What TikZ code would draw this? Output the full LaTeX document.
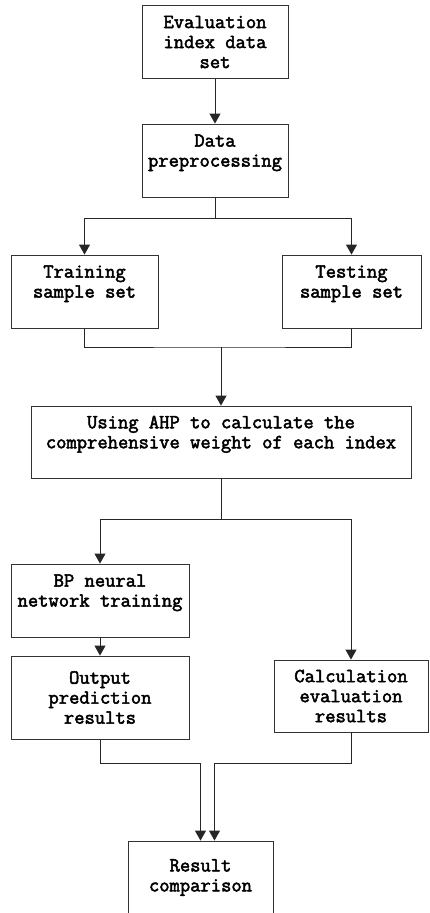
\documentclass[tikz,border=0pt]{standalone}
\usepackage{fontspec}
\newfontfamily\boxfont{Latin Modern Mono}[FakeBold=2.5]
\usepackage{tikz}
\usetikzlibrary{positioning,arrows.meta}

\tikzset{
  box/.style={draw=black!80, line width=0.9pt, rectangle, inner sep=0pt,
    minimum width=146pt, minimum height=73pt, align=center,
    font=\boxfont\fontsize{20}{20}\selectfont},
  arr/.style={draw=black!85, line width=1pt, -{Triangle[length=10pt,width=11pt]}},
  ln/.style={draw=black!85, line width=1pt}
}

\begin{document}
\begin{tikzpicture}[x=1pt,y=-1pt,on grid]
			\clip (0,0) rectangle (429,913);
			\fill[white] (0,0) rectangle (429,913);
			\node[box] (eval) at (215,42) {Evaluation\\index data\\set};
			\node[box] (prep) [below=118.5pt of eval] {Data\\preprocessing\\~};
			\node[box, minimum width=147pt] (train) [below left=131pt and 130.5pt of prep] {Training\\sample set\\~};
			\node[box, minimum width=139pt] (test) [below right=131pt and 136.5pt of prep] {Testing\\sample set\\~};
			\node[box, minimum width=380pt, minimum height=72pt] (ahp) [below right=281.5pt and 6pt of prep] {Using AHP to calculate the\\comprehensive weight of each index\\~};
			\node[box, minimum width=178pt] (bp) [below left=158.5pt and 121pt of ahp] {BP neural\\network training\\~};
			\node[box, minimum width=178pt, minimum height=83pt] (out) [below=97pt of bp] {Output\\prediction\\results};
			\node[box, minimum width=154pt, minimum height=72pt] (calc) [below right=254pt and 130pt of ahp] {Calculation\\evaluation\\results};
			\node[box, minimum width=145pt] (res) [below right=180pt and 100.5pt of out] {Result\\comparison};
			% split and join points
			\coordinate (split1) at (215,218);
			\coordinate (join1) at (221,347);
			\coordinate (split2) at (221,519);
			\path[arr] (eval) -- (prep);
			\path[ln] (prep) -- (split1);
			\path[arr] (split1) -| (train);
			\path[arr] (split1) -| (test);
			\path[ln] (train) |- (join1) -| (test);
			\path[arr] (join1) -- (ahp);
			\path[ln] (ahp) -- (split2);
			\path[arr] (split2) -| (bp);
			\path[arr] (split2) -| (calc);
			\path[arr] (bp) -- (out);
			\path[arr] (out.south) -- ++(0,24) -| (res.north);
			\path[arr] (calc.south) -- ++(0,31) -| ([xshift=14pt]res.north);
		\end{tikzpicture}
\end{document}
